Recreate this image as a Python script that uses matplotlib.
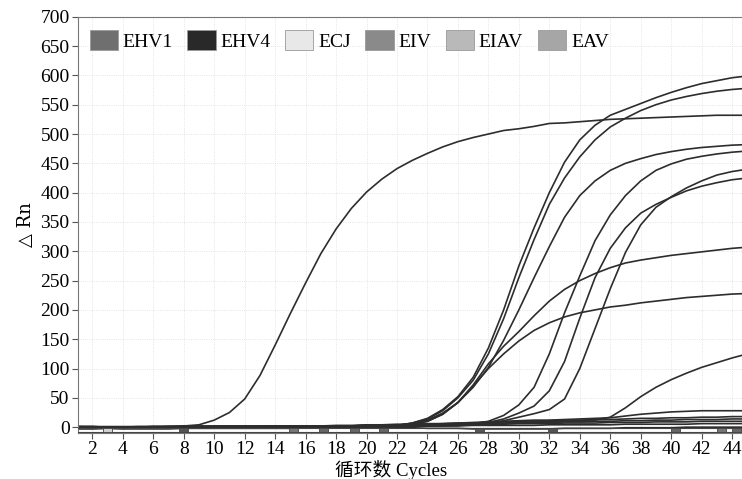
import matplotlib.pyplot as plt
from matplotlib.patches import Patch, Rectangle

plt.rcParams['font.family'] = ['Liberation Serif', 'Noto Sans CJK SC', 'DejaVu Sans']

cycles = list(range(1, 46))

# amplification curves, delta Rn per cycle (1..45)
early = [1, 1, 0, 0, 1, 1, 1, 2, 4, 12, 25, 48, 88, 140, 194, 246, 296, 338, 373, 401,
         423, 441, 455, 467, 478, 487, 494, 500, 506, 509, 513, 518, 519, 521, 523, 525,
         526, 527, 528, 529, 530, 531, 532, 532, 532]
c_top = [0, 0, 0, 0, 0, 1, 1, 1, 1, 1, 1, 1, 1, 1, 2, 2, 2, 2, 2, 2, 3, 3,
         7, 15, 30, 52, 85, 135, 200, 275, 340, 400, 452, 490, 515, 532, 542, 552, 562,
         571, 579, 586, 591, 596, 599]
c_second = [0, 0, 0, 0, 0, 1, 1, 1, 1, 1, 1, 1, 1, 2, 2, 2, 2, 2, 2, 3, 3, 3,
            7, 14, 28, 50, 80, 125, 185, 255, 320, 380, 425, 461, 490, 512, 527, 540, 550,
            558, 564, 569, 573, 576, 578]
c_third = [1, 0, 0, 0, 0, 0, 1, 1, 1, 1, 1, 1, 1, 1, 2, 2, 2, 2, 2, 2, 3, 3,
           6, 12, 24, 42, 68, 102, 148, 200, 255, 308, 358, 395, 420, 438, 450, 458, 465,
           470, 474, 477, 479, 481, 482]
c_shallow1 = [0, 0, 0, 0, 0, 0, 1, 1, 1, 1, 1, 1, 1, 1, 2, 2, 2, 2, 2, 2, 3, 3,
              5, 10, 22, 42, 72, 108, 138, 163, 190, 215, 235, 250, 262, 272, 280, 285, 289,
              293, 296, 299, 302, 305, 307]
c_shallow2 = [0, 0, 0, 0, 0, 0, 0, 1, 1, 1, 1, 1, 1, 1, 1, 2, 2, 2, 2, 2, 3, 3,
              5, 10, 22, 42, 70, 100, 125, 147, 165, 178, 188, 195, 200, 205, 208, 212, 215,
              218, 221, 223, 225, 227, 228]
c_late1 = [0, 0, 0, 0, 0, 0, 0, 0, 1, 1, 1, 1, 1, 1, 1, 1, 2, 2, 2, 2, 2, 2, 2, 3, 3,
           4, 6, 10, 20, 38, 68, 125, 195, 258, 318, 362, 395, 420, 438, 449, 457, 462,
           466, 469, 471]
c_late2 = [0, 0, 0, 0, 0, 0, 0, 0, 0, 1, 1, 1, 1, 1, 1, 1, 1, 2, 2, 2, 2, 2, 2, 2, 3,
           3, 5, 8, 14, 24, 36, 62, 112, 186, 255, 305, 340, 365, 380, 392, 403, 411,
           417, 422, 425]
c_late3 = [0, 0, 0, 0, 0, 0, 0, 0, 0, 0, 1, 1, 1, 1, 1, 1, 1, 1, 2, 2, 2, 2, 2, 2, 2,
           3, 4, 6, 11, 17, 23, 30, 48, 100, 168, 236, 298, 345, 375, 393, 408, 420,
           430, 436, 440]
c_last = [1, 1, 0, 0, 0, 0, 0, 1, 1, 1, 1, 1, 1, 1, 2, 2, 2, 2, 2, 3, 3, 3, 4, 4, 5,
          5, 5, 6, 7, 8, 9, 10, 10, 11, 12, 17, 33, 52, 68, 81, 92, 102, 110, 118, 125]
low1 = [1, 1, 1, 1, 1, 1, 1, 1, 1, 1, 1, 1, 1, 1, 1, 1, 1, 1, 1, 1, 2, 3, 4, 5, 6,
        7, 8, 9, 10, 11, 12, 12, 13, 14, 15, 16, 19, 22, 24, 26, 27, 28, 28, 28, 28]
low2 = [0, 0, 0, 0, 0, 0, 0, 1, 1, 1, 1, 1, 1, 1, 1, 2, 2, 3, 3, 4, 4, 5, 5, 6, 6,
        7, 7, 8, 9, 10, 10, 11, 12, 12, 13, 13, 14, 15, 15, 16, 16, 17, 17, 18, 18]
low3 = [-1, -1, 0, 0, 0, 0, 0, 0, 0, 1, 1, 1, 1, 1, 1, 1, 2, 2, 2, 3, 3, 3, 4, 4, 5,
        5, 6, 6, 7, 7, 8, 8, 9, 9, 10, 10, 11, 11, 12, 12, 13, 13, 13, 14, 14]
low4 = [-2, -2, -1, -1, 0, 0, 0, 0, 0, 0, 0, 0, 1, 1, 1, 1, 1, 1, 2, 2, 2, 3, 3, 3, 4,
        4, 5, 5, 5, 6, 6, 6, 7, 7, 7, 8, 8, 8, 9, 9, 9, 10, 10, 10, 10]
low5 = [-3, -3, -2, -2, -1, -1, -1, -1, 0, 0, 0, 0, 0, 0, 0, 1, 1, 1, 1, 1, 1, 2, 2, 2, 2,
        2, 3, 3, 3, 3, 3, 4, 4, 4, 4, 4, 5, 5, 5, 5, 5, 6, 6, 6, 6]
low6 = [-1, -2, -2, -3, -3, -3, -3, -2, -2, -2, -2, -2, -2, -2, -2, -1, -1, -1, -1, -1, -1, -1,
        -1, -2, -2, -2, -3, -3, -3, -3, -3, -3, -2, -2, -2, -2, -1, -1, -1, -1, 0, 0, 0, 0, 0]

curves = [early, c_top, c_second, c_third, c_shallow1, c_shallow2, c_late1, c_late2,
          c_late3, c_last, low1, low2, low3, low4, low5, low6]

legend_names = ['EHV1', 'EHV4', 'ECJ', 'EIV', 'EIAV', 'EAV']
legend_colors = ['#6f6f6f', '#292929', '#e8e8e8', '#8a8a8a', '#b9b9b9', '#a6a6a6']

# small well markers in the strip under the baseline
well_marks = [3, 8, 15.2, 17.2, 19.2, 21.1, 27.4, 32.2, 40.3, 43.3, 44.3]
well_colors = ['#d0d0d0', '#555555', '#777777', '#666666', '#666666', '#666666',
               '#555555', '#555555', '#666666', '#777777', '#666666']

fig = plt.figure(figsize=(7.42, 4.79), dpi=100)
ax = fig.add_axes([0.105, 0.096, 0.895, 0.869])

for ys in curves:
    ax.plot(cycles, ys, color='#2d2d2d', lw=1.2)

# strip under the curves
ax.axhline(-2, color='#444444', lw=0.8, zorder=3)
ax.axhline(-9, color='#444444', lw=0.8, zorder=3)
for xm, cm in zip(well_marks, well_colors):
    ax.add_patch(Rectangle((xm - 0.3, -9), 0.6, 7, facecolor=cm, edgecolor='#444444',
                           lw=0.6, zorder=3))

ax.set_xlim(1.05, 44.65)
ax.set_ylim(-10, 700)
ax.set_xticks(range(2, 45, 2))
ax.set_yticks(range(0, 701, 50))
ax.tick_params(labelsize=14, length=4, color='#555555', pad=2)
ax.grid(True, color='#dddddd', linestyle=':', lw=0.6)
ax.set_axisbelow(True)

ax.spines['right'].set_visible(False)
for s in ['left', 'top', 'bottom']:
    ax.spines[s].set_color('#777777')

ax.set_xlabel('循环数 Cycles', fontsize=13.5)
ax.xaxis.set_label_coords(0.471, -0.065)
ax.set_ylabel('△ Rn', fontsize=13, family=['DejaVu Serif'], labelpad=4)

handles = [Patch(facecolor=c, edgecolor='#9a9a9a', lw=0.6) for c in legend_colors]
ax.legend(handles, legend_names, loc='upper left', bbox_to_anchor=(-0.003, 1.0), ncol=6,
          frameon=False, fontsize=14, handlelength=1.45, handleheight=1.15,
          handletextpad=0.25, columnspacing=0.75, borderaxespad=0.3)

fig.savefig('out.png', dpi=100)
